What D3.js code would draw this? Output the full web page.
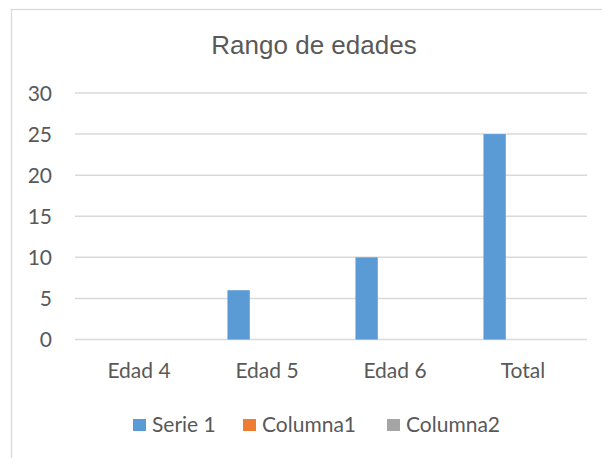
<!DOCTYPE html>
<html>
<head>
<meta charset="utf-8">
<script src="https://cdn.jsdelivr.net/npm/d3@7"></script>
<style>
  html, body { margin: 0; padding: 0; background: #fff; }
  svg { display: block; }
  .axis-label { font-family: Lato, "Noto Sans", sans-serif; font-size: 21px; fill: #595959; }
  .chart-title { font-family: "Liberation Sans", Arial, sans-serif; font-size: 26px; fill: #595959; }
</style>
</head>
<body>
<svg id="chart"></svg>
<script>
// data
const categories = ['Edad 4', 'Edad 5', 'Edad 6', 'Total'];
const seriesNames = ['Serie 1', 'Columna1', 'Columna2'];
const serie1 = [0, 6, 10, 25];
const columna1 = [0, 0, 0, 0];
const columna2 = [0, 0, 0, 0];
const yTicks = [0, 5, 10, 15, 20, 25, 30];
const colors = ['#5B9BD5', '#ED7D31', '#A5A5A5'];

const width = 602, height = 458;
const margin = { top: 93, bottom: 118.5, left: 75, right: 15 };

const svg = d3.select('#chart')
    .attr('width', width)
    .attr('height', height);

// chart area border (runs off the right and bottom of the picture)
svg.append('rect')
    .attr('x', 11.5)
    .attr('y', 9.5)
    .attr('width', 700)
    .attr('height', 600)
    .attr('fill', 'none')
    .attr('stroke', '#D9D9D9')
    .attr('stroke-width', 1.3);

svg.append('text')
    .attr('class', 'chart-title')
    .attr('x', 314)
    .attr('y', 54)
    .style('text-anchor', 'middle')
    .text('Rango de edades');

const plotW = 587 - margin.left;
const plotH = height - margin.top - margin.bottom;

const chart = svg.append('g')
    .attr('transform', `translate(${margin.left},${margin.top})`);

const x0 = d3.scaleBand()
    .domain(categories)
    .range([0, plotW])
    .paddingInner(0.382)
    .paddingOuter(0.191);

const x1 = d3.scaleBand()
    .domain(seriesNames)
    .range([0, x0.bandwidth()])
    .paddingInner(0.2126)
    .paddingOuter(0);

const y = d3.scaleLinear()
    .domain([0, 30])
    .range([plotH, 0]);

// gridlines
chart.append('g')
    .selectAll('line')
    .data(yTicks)
    .join('line')
    .attr('x1', 0)
    .attr('x2', plotW)
    .attr('y1', d => y(d))
    .attr('y2', d => y(d))
    .attr('stroke', '#D9D9D9')
    .attr('stroke-width', 1.5);

// y axis labels
const yAxis = d3.axisLeft(y).tickValues(yTicks).tickSize(0).tickPadding(23);
const yAxisG = chart.append('g').call(yAxis);
yAxisG.select('.domain').remove();
yAxisG.selectAll('text')
    .attr('class', 'axis-label')
    .attr('dy', '0.35em')
    .attr('font-size', null)
    .attr('font-family', null);

// x axis labels
const xAxis = d3.axisBottom(x0).tickSize(0).tickPadding(23.5);
const xAxisG = chart.append('g')
    .attr('transform', `translate(0,${plotH})`)
    .call(xAxis);
xAxisG.select('.domain').remove();
xAxisG.selectAll('text')
    .attr('class', 'axis-label')
    .attr('font-size', null)
    .attr('font-family', null);

// bars
const seriesData = [serie1, columna1, columna2];
const groups = chart.selectAll('.series')
    .data(seriesData)
    .join('g')
    .attr('class', 'series')
    .attr('fill', (d, i) => colors[i]);

groups.each(function(values, si) {
  d3.select(this).selectAll('rect')
    .data(values.map((v, ci) => ({ cat: categories[ci], v: v })))
    .join('rect')
    .attr('x', d => x0(d.cat) + x1(seriesNames[si]))
    .attr('y', d => y(d.v))
    .attr('width', x1.bandwidth())
    .attr('height', d => plotH - y(d.v));
});

// legend
const legendX = [133, 243, 387];
const legend = svg.append('g')
    .selectAll('g')
    .data(seriesNames)
    .join('g')
    .attr('transform', (d, i) => `translate(${legendX[i]},419)`);

legend.append('rect')
    .attr('width', 13)
    .attr('height', 12)
    .attr('fill', (d, i) => colors[i]);

legend.append('text')
    .attr('class', 'axis-label')
    .attr('x', 19)
    .attr('y', 12.5)
    .text(d => d);
</script>
</body>
</html>
